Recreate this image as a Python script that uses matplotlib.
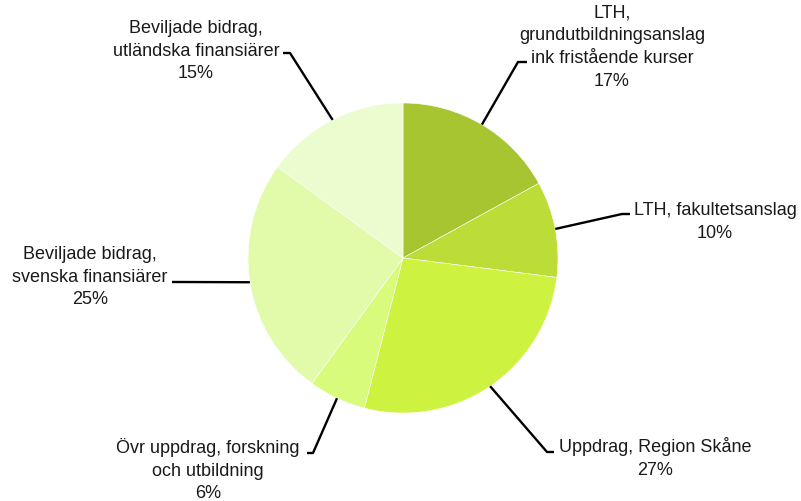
import numpy as np
import matplotlib.pyplot as plt

labels = [
    "LTH,\ngrundutbildningsanslag\nink fristående kurser",
    "LTH, fakultetsanslag",
    "Uppdrag, Region Skåne",
    "Övr uppdrag, forskning\noch utbildning",
    "Beviljade bidrag,\nsvenska finansiärer",
    "Beviljade bidrag,\nutländska finansiärer",
]
shares = [17, 10, 27, 6, 25, 15]
colors = ["#a6c530", "#bcdc37", "#cdf240", "#d9fb7c", "#e2fbaa", "#ebfcce"]

# label layout in pixels (top-down): text centre, elbow, end of the short horizontal
text_pos = [(612, 47), (715, 222), (655, 458), (208, 470), (90, 277), (196, 51)]
elbows = [(518, 62), (622, 214), (547, 452), (313, 453), (180, 282), (290, 53)]
ends = [(527, 62), (630, 214), (554, 452), (307, 453), (172, 282), (283, 53)]

W, H = 801, 501
fig = plt.figure(figsize=(W / 100, H / 100), dpi=100)
ax = fig.add_axes([0, 0, 1, 1])
ax.axis("off")

cx, cy, r = 403, H - 258, 155
wedges, _ = ax.pie(shares, colors=colors, startangle=90, counterclock=False,
                   center=(cx, cy), radius=r,
                   wedgeprops=dict(edgecolor="white", linewidth=0.4))
ax.set_xlim(0, W)
ax.set_ylim(0, H)

for w, lab, s, tp, el, en in zip(wedges, labels, shares, text_pos, elbows, ends):
    mid = np.deg2rad((w.theta1 + w.theta2) / 2)
    x0, y0 = cx + r * np.cos(mid), cy + r * np.sin(mid)
    ax.plot([x0, el[0], en[0]], [y0, H - el[1], H - en[1]],
            color="black", lw=1.7, solid_capstyle="butt", zorder=3)
    ax.text(tp[0], H - tp[1], f"{lab}\n{s}%", ha="center", va="center",
            multialignment="center", fontsize=13, linespacing=1.45,
            family="Liberation Sans", color="#1a1a1a")

plt.savefig("out.png", dpi=100)
